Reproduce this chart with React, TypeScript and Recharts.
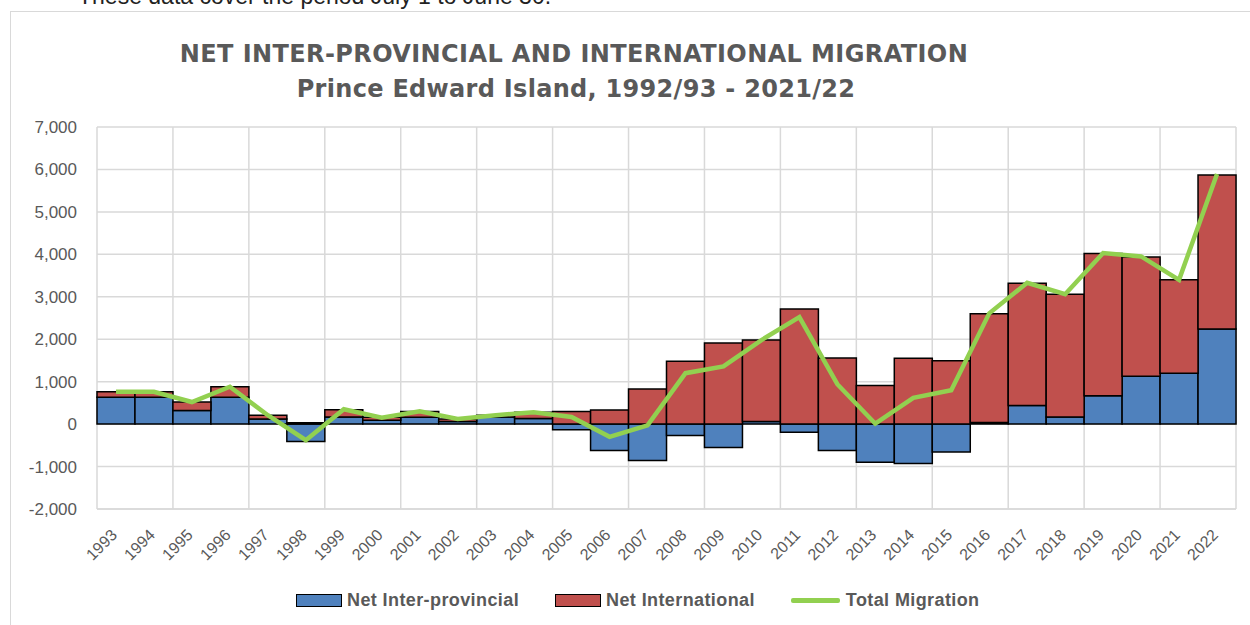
import { ComposedChart, Bar, Line, XAxis, YAxis, CartesianGrid } from "recharts";

const years = [
  "1993", "1994", "1995", "1996", "1997", "1998", "1999", "2000", "2001", "2002",
  "2003", "2004", "2005", "2006", "2007", "2008", "2009", "2010", "2011", "2012",
  "2013", "2014", "2015", "2016", "2017", "2018", "2019", "2020", "2021", "2022",
];

// net inter-provincial (blue)
const interProvincial = [
  630, 630, 320, 630, 120, -410, 170, 90, 160, 60,
  170, 130, -130, -620, -860, -270, -550, 60, -190, -620,
  -900, -930, -660, 40, 440, 170, 670, 1130, 1200, 2240,
];

// net international (red)
const international = [
  130, 130, 200, 250, 90, 30, 170, 70, 140, 60,
  40, 150, 300, 330, 830, 1480, 1910, 1920, 2710, 1560,
  910, 1550, 1490, 2560, 2880, 2890, 3350, 2810, 2200, 3630,
];

// total migration (green line)
const totalMigration = [
  760, 760, 520, 880, 210, -380, 350, 150, 300, 120,
  210, 280, 170, -300, -30, 1200, 1360, 1980, 2520, 940,
  10, 620, 800, 2610, 3330, 3060, 4030, 3950, 3400, 5890,
];

const yTicks = [-2000, -1000, 0, 1000, 2000, 3000, 4000, 5000, 6000, 7000];

const data = years.map((year, i) => ({
  year,
  inter: interProvincial[i],
  intl: international[i],
  total: totalMigration[i],
}));

const GREY = "#595959";
const GRID = "#d9d9d9";
const BLUE = "#4f81bd";
const RED = "#c0504d";
const GREEN = "#92d050";
const FONT = '"Liberation Sans", Arial, sans-serif';
const TITLE_FONT = '"DejaVu Sans", "Liberation Sans", sans-serif';

function YearTick({ x, y, payload }: { x: number; y: number; payload: { value: string } }) {
  const ax = x + 2;
  const ay = y + 27;
  return (
    <text
      x={ax}
      y={ay}
      transform={`rotate(-45, ${ax}, ${ay})`}
      textAnchor="end"
      fontSize={16}
      fill={GREY}
      fontFamily={FONT}
    >
      {payload.value}
    </text>
  );
}

function Swatch({ color }: { color: string }) {
  return (
    <span
      style={{
        display: "inline-block",
        width: 46,
        height: 13,
        boxSizing: "border-box",
        background: color,
        border: "1.5px solid #000",
      }}
    />
  );
}

export default function App() {
  return (
    <div
      style={{
        position: "absolute",
        left: 0,
        top: 0,
        width: 1250,
        height: 625,
        overflow: "hidden",
        background: "#fff",
        fontFamily: FONT,
      }}
    >
      <div
        style={{
          position: "absolute",
          left: 78,
          top: -15,
          fontSize: 23,
          lineHeight: "23px",
          color: "#222",
          whiteSpace: "nowrap",
        }}
      >
        These data cover the period July 1 to June 30.
      </div>
      <div
        style={{
          position: "absolute",
          left: 10,
          top: 11,
          width: 1300,
          height: 700,
          border: `1px solid ${GRID}`,
        }}
      />
      <div
        style={{
          position: "absolute",
          left: 0,
          width: 1148,
          top: 42,
          textAlign: "center",
          fontFamily: TITLE_FONT,
          fontSize: 24,
          lineHeight: "24px",
          fontWeight: "bold",
          letterSpacing: 0.4,
          color: GREY,
          whiteSpace: "nowrap",
        }}
      >
        NET INTER-PROVINCIAL AND INTERNATIONAL MIGRATION
      </div>
      <div
        style={{
          position: "absolute",
          left: 0,
          width: 1152,
          top: 77,
          textAlign: "center",
          fontFamily: TITLE_FONT,
          fontSize: 24,
          lineHeight: "24px",
          fontWeight: "bold",
          letterSpacing: 0.3,
          color: GREY,
          whiteSpace: "nowrap",
        }}
      >
        Prince Edward Island, 1992/93 - 2021/22
      </div>

      <div style={{ position: "absolute", left: 0, top: 0 }}>
        <ComposedChart
          width={1250}
          height={625}
          data={data}
          stackOffset="sign"
          barCategoryGap={0}
          barGap={0}
          margin={{ top: 127, right: 14, left: 0, bottom: 56 }}
        >
          <CartesianGrid
            stroke={GRID}
            strokeWidth={1.5}
            verticalCoordinatesGenerator={({ offset }: { offset: { left: number; width: number } }) => {
              const step = offset.width / years.length;
              const xs: number[] = [];
              for (let i = 0; i <= years.length; i += 2) xs.push(offset.left + i * step);
              return xs;
            }}
          />
          <XAxis
            dataKey="year"
            interval={0}
            height={60}
            tickSize={0}
            tickMargin={0}
            tickLine={false}
            axisLine={{ stroke: GRID, strokeWidth: 1.5 }}
            tick={YearTick}
          />
          <YAxis
            width={97}
            domain={[-2000, 7000]}
            ticks={yTicks}
            interval={0}
            axisLine={false}
            tickLine={false}
            tickSize={0}
            tickMargin={20}
            tick={{ fontSize: 17, fill: GREY, fontFamily: FONT }}
            tickFormatter={(v: number) => v.toLocaleString("en-US")}
          />
          <Bar
            dataKey="inter"
            stackId="m"
            fill={BLUE}
            stroke="#000"
            strokeWidth={1.5}
            isAnimationActive={false}
          />
          <Bar
            dataKey="intl"
            stackId="m"
            fill={RED}
            stroke="#000"
            strokeWidth={1.5}
            isAnimationActive={false}
          />
          <Line
            type="linear"
            dataKey="total"
            stroke={GREEN}
            strokeWidth={4.5}
            dot={false}
            activeDot={false}
            isAnimationActive={false}
          />
        </ComposedChart>
      </div>

      <div
        style={{
          position: "absolute",
          left: 296,
          top: 590,
          display: "flex",
          alignItems: "center",
          gap: 36,
          fontSize: 18,
          fontWeight: "bold",
          letterSpacing: 0.4,
          color: GREY,
          whiteSpace: "nowrap",
        }}
      >
        <span style={{ display: "flex", alignItems: "center", gap: 5 }}>
          <Swatch color={BLUE} />
          Net Inter-provincial
        </span>
        <span style={{ display: "flex", alignItems: "center", gap: 5 }}>
          <Swatch color={RED} />
          Net International
        </span>
        <span style={{ display: "flex", alignItems: "center", gap: 6 }}>
          <span style={{ display: "inline-block", width: 49, height: 5, background: GREEN, borderRadius: 2 }} />
          Total Migration
        </span>
      </div>
    </div>
  );
}
